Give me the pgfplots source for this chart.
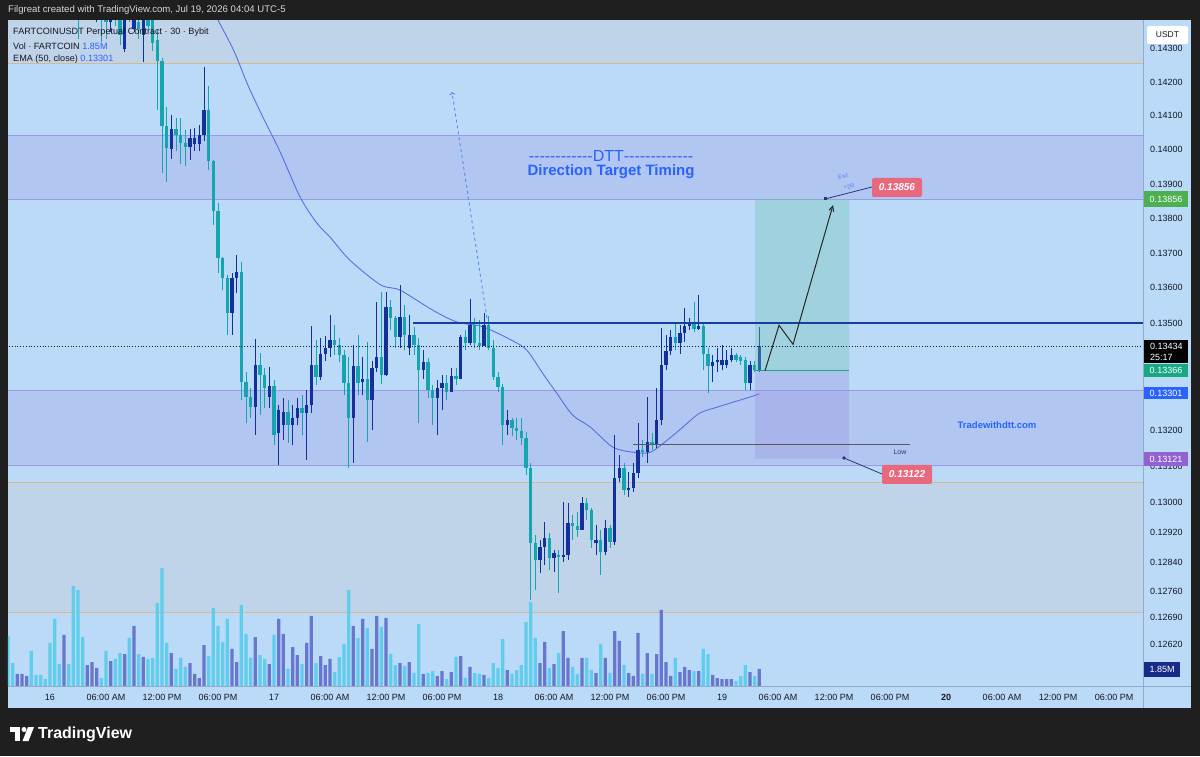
\documentclass[border=0pt]{standalone}
\usepackage{pgfplots}
\pgfplotsset{compat=1.18}
\usepackage{pgfplotstable}
\usepackage{fontspec}
\setmainfont{Liberation Sans}
\usetikzlibrary{arrows.meta}

\definecolor{framebg}{RGB}{31,31,31}
\definecolor{chartbg}{RGB}{187,218,248}
\definecolor{zonepurple}{RGB}{177,199,241}
\definecolor{zonegray}{RGB}{191,211,233}
\definecolor{linepurple}{RGB}{155,155,225}
\definecolor{lineorange}{RGB}{218,183,140}
\definecolor{cup}{RGB}{20,48,155}
\definecolor{cdown}{RGB}{20,165,175}
\definecolor{vup}{RGB}{105,118,205}
\definecolor{vdown}{RGB}{95,205,235}
\definecolor{emacol}{RGB}{85,112,228}
\definecolor{tvblue}{RGB}{41,98,255}
\definecolor{tvtext}{RGB}{19,23,34}
\definecolor{thickline}{RGB}{22,62,160}
\definecolor{sepline}{RGB}{150,170,200}
\definecolor{lblgreen}{RGB}{76,175,80}
\definecolor{lblteal}{RGB}{24,168,130}
\definecolor{lblpurple}{RGB}{148,98,208}
\definecolor{lblnavy}{RGB}{22,42,135}
\definecolor{pinklbl}{RGB}{232,105,125}
\definecolor{poslow}{RGB}{150,140,220}
\definecolor{poshigh}{RGB}{110,195,175}
\definecolor{dashblue}{RGB}{90,140,240}
\definecolor{navyline}{RGB}{40,55,120}

\newcommand\fs[1]{\fontsize{#1}{#1}\selectfont}
\newcommand\hy{\mbox{-}}

\pgfplotstableread{
h o hi lo c v u
-4.5 0.1470 0.1474 0.1465 0.1468 5.44 0
-4 0.1468 0.1472 0.1462 0.1465 2.50 0
-3.5 0.1465 0.1470 0.1460 0.1468 1.31 1
-3 0.1462 0.1470 0.1458 0.1466 1.31 1
-2.5 0.1460 0.1466 0.1455 0.1463 1.09 1
-2 0.1463 0.1466 0.1455 0.1457 3.81 0
-1.5 0.1457 0.1462 0.1452 0.1455 1.20 0
-1 0.1455 0.1461 0.1450 0.1452 1.20 0
-0.5 0.1452 0.1458 0.1449 0.1450 0.76 0
0 0.1450 0.1458 0.1447 0.1449 4.68 0
0.5 0.1449 0.1455 0.1446 0.1447 7.29 0
1 0.1447 0.1455 0.1444 0.1446 2.39 0
1.5 0.1446 0.1452 0.1443 0.1450 5.55 1
2 0.1450 0.1452 0.1442 0.1444 2.39 0
2.5 0.1448 0.1450 0.1441 0.1444 10.88 0
3 0.1448 0.1452 0.14330 0.14450 10.44 0
3.5 0.14480 0.14520 0.14400 0.14450 5.33 0
4 0.14430 0.14540 0.14420 0.14480 2.28 1
4.5 0.14400 0.14480 0.14390 0.14430 2.61 1
5 0.14400 0.14470 0.14380 0.14450 1.96 1
5.5 0.14450 0.14480 0.14320 0.14410 0.87 0
6 0.14410 0.14450 0.14330 0.14380 3.81 0
6.5 0.14380 0.14440 0.14350 0.14420 2.72 1
7 0.14420 0.14450 0.14370 0.14390 2.94 0
7.5 0.14420 0.14450 0.14310 0.14340 3.59 0
8 0.14300 0.14460 0.14290 0.14420 3.48 1
8.5 0.14420 0.14460 0.14380 0.14400 5.22 0
9 0.14360 0.14440 0.14350 0.14400 6.53 1
9.5 0.14380 0.14420 0.14330 0.14360 3.48 0
10 0.14340 0.14420 0.14259 0.14390 3.16 1
10.5 0.14390 0.14410 0.14360 0.14370 2.94 0
11 0.14390 0.14420 0.14294 0.14318 3.05 0
11.5 0.14325 0.14355 0.14118 0.14262 9.03 0
12 0.14262 0.14271 0.13931 0.14070 12.84 0
12.5 0.14070 0.14126 0.13906 0.14006 4.68 0
13 0.14003 0.14103 0.13974 0.14061 3.59 1
13.5 0.14061 0.14094 0.13997 0.14042 1.85 0
14 0.14042 0.14094 0.13960 0.14021 3.05 0
14.5 0.14021 0.14058 0.13951 0.14009 2.07 0
15 0.14009 0.14061 0.13971 0.14036 2.50 1
15.5 0.14018 0.14064 0.13997 0.14036 1.31 1
16 0.14018 0.14073 0.13997 0.14042 0.87 1
16.5 0.14042 0.14244 0.14027 0.14118 4.46 1
17 0.14118 0.14188 0.13940 0.13966 3.26 0
17.5 0.13966 0.13969 0.13780 0.13821 8.49 0
18 0.13821 0.13844 0.13643 0.13686 6.53 0
18.5 0.13686 0.13690 0.13594 0.13629 4.79 0
19 0.13629 0.13637 0.13466 0.13529 7.29 0
19.5 0.13529 0.13643 0.13466 0.13629 4.03 1
20 0.13629 0.13694 0.13586 0.13646 2.61 1
20.5 0.13646 0.13674 0.13283 0.13333 8.81 0
21 0.13333 0.13361 0.13219 0.13292 5.66 0
21.5 0.13292 0.13317 0.13233 0.13264 3.05 0
22 0.13264 0.13454 0.13186 0.13381 5.33 1
22.5 0.13381 0.13417 0.13242 0.13353 3.37 0
23 0.13353 0.13372 0.13261 0.13317 2.94 0
23.5 0.13292 0.13375 0.13261 0.13322 2.39 1
24 0.13322 0.13339 0.13158 0.13186 5.55 0
24.5 0.13192 0.13269 0.13103 0.13256 7.29 1
25 0.13214 0.13289 0.13172 0.13250 5.66 1
25.5 0.13250 0.13283 0.13164 0.13214 1.85 0
26 0.13214 0.13269 0.13158 0.13233 4.24 1
26.5 0.13233 0.13289 0.13214 0.13261 3.37 1
27 0.13261 0.13297 0.13186 0.13247 2.39 0
27.5 0.13247 0.13311 0.13117 0.13269 4.68 1
28 0.13269 0.13491 0.13247 0.13383 7.62 1
28.5 0.13383 0.13451 0.13325 0.13347 2.50 0
29 0.13347 0.13457 0.13339 0.13414 3.26 1
29.5 0.13414 0.13463 0.13394 0.13431 2.28 1
30 0.13431 0.13523 0.13403 0.13451 2.94 1
30.5 0.13451 0.13494 0.13409 0.13437 1.52 0
31 0.13437 0.13457 0.13389 0.13409 3.16 0
31.5 0.13409 0.13423 0.13297 0.13331 4.57 0
32 0.13331 0.13403 0.13097 0.13233 10.44 0
32.5 0.13233 0.13437 0.13111 0.13378 6.53 1
33 0.13378 0.13466 0.13297 0.13331 5.22 0
33.5 0.13333 0.13403 0.13297 0.13344 7.29 1
34 0.13344 0.13446 0.13167 0.13283 6.31 0
34.5 0.13283 0.13394 0.13200 0.13372 4.03 1
35 0.13372 0.13560 0.13361 0.13403 7.62 1
35.5 0.13403 0.13589 0.13328 0.13353 6.42 0
36 0.13353 0.13589 0.13350 0.13546 7.40 1
36.5 0.13546 0.13566 0.13480 0.13514 3.48 0
37 0.13514 0.13520 0.13431 0.13460 2.28 0
37.5 0.13460 0.13609 0.13431 0.13517 2.50 1
38 0.13517 0.13551 0.13423 0.13466 2.18 0
38.5 0.13431 0.13523 0.13409 0.13466 2.61 1
39 0.13466 0.13489 0.13409 0.13437 1.41 0
39.5 0.13437 0.13457 0.13219 0.13367 6.75 0
40 0.13367 0.13423 0.13344 0.13389 1.31 1
40.5 0.13389 0.13400 0.13289 0.13311 1.41 0
41 0.13311 0.13325 0.13214 0.13289 1.63 0
41.5 0.13289 0.13339 0.13186 0.13317 1.09 1
42 0.13317 0.13353 0.13256 0.13331 1.63 1
42.5 0.13331 0.13353 0.13283 0.13306 0.76 0
43 0.13306 0.13372 0.13306 0.13350 1.52 1
43.5 0.13350 0.13372 0.13325 0.13344 3.16 0
44 0.13344 0.13466 0.13344 0.13460 3.26 1
44.5 0.13460 0.13480 0.13423 0.13443 0.87 0
45 0.13443 0.13569 0.13437 0.13494 2.07 1
45.5 0.13494 0.13514 0.13429 0.13443 1.41 0
46 0.13443 0.13509 0.13423 0.13434 1.31 0
46.5 0.13434 0.13529 0.13434 0.13494 1.20 1
47 0.13494 0.13520 0.13423 0.13431 0.87 0
47.5 0.13431 0.13451 0.13339 0.13347 2.50 0
48 0.13347 0.13361 0.13306 0.13319 1.96 0
48.5 0.13319 0.13328 0.13158 0.13214 5.11 0
49 0.13214 0.13256 0.13186 0.13228 1.74 1
49.5 0.13228 0.13233 0.13183 0.13206 1.31 0
50 0.13206 0.13233 0.13172 0.13197 1.74 0
50.5 0.13197 0.13233 0.13158 0.13178 2.28 0
51 0.13178 0.13194 0.13076 0.13097 6.96 0
51.5 0.13097 0.13111 0.12738 0.12892 9.14 0
52 0.12892 0.12914 0.12765 0.12846 5.22 0
52.5 0.12846 0.12900 0.12811 0.12881 2.50 1
53 0.12881 0.12949 0.12832 0.12905 4.79 1
53.5 0.12905 0.12919 0.12819 0.12851 1.96 0
54 0.12851 0.12873 0.12813 0.12865 2.39 1
54.5 0.12859 0.12873 0.12757 0.12854 3.59 0
55 0.12854 0.13003 0.12840 0.12859 5.98 1
55.5 0.12859 0.13000 0.12846 0.12946 3.05 1
56 0.12946 0.12968 0.12900 0.12938 2.07 0
56.5 0.12938 0.12976 0.12908 0.12927 1.31 0
57 0.12927 0.13016 0.12927 0.13000 3.05 1
57.5 0.13000 0.13014 0.12954 0.12981 3.05 0
58 0.12981 0.12987 0.12878 0.12900 1.74 0
58.5 0.12892 0.12941 0.12859 0.12900 1.41 1
59 0.12900 0.12927 0.12805 0.12868 4.57 0
59.5 0.12868 0.12954 0.12859 0.12932 3.05 1
60 0.12932 0.12941 0.12878 0.12895 1.41 0
60.5 0.12895 0.13186 0.12887 0.13068 5.98 1
61 0.13068 0.13131 0.13057 0.13097 4.90 1
61.5 0.13097 0.13111 0.13022 0.13035 2.28 0
62 0.13035 0.13084 0.13016 0.13041 1.41 1
62.5 0.13041 0.13111 0.13030 0.13081 1.09 1
63 0.13081 0.13219 0.13068 0.13144 5.77 1
63.5 0.13144 0.13172 0.13125 0.13139 1.31 0
64 0.13139 0.13292 0.13111 0.13167 3.59 1
64.5 0.13167 0.13192 0.13144 0.13158 1.31 0
65 0.13158 0.13317 0.13150 0.13228 3.48 1
65.5 0.13228 0.13486 0.13214 0.13383 8.27 1
66 0.13383 0.13466 0.13367 0.13420 2.61 1
66.5 0.13420 0.13480 0.13409 0.13460 1.09 1
67 0.13460 0.13500 0.13423 0.13443 3.05 0
67.5 0.13443 0.13494 0.13414 0.13471 1.52 1
68 0.13471 0.13543 0.13446 0.13491 2.07 1
68.5 0.13491 0.13514 0.13480 0.13500 1.74 1
69 0.13500 0.13560 0.13474 0.13483 1.63 0
69.5 0.13483 0.13580 0.13480 0.13491 1.63 1
70 0.13491 0.13500 0.13367 0.13414 4.03 0
70.5 0.13414 0.13429 0.13303 0.13378 3.48 0
71 0.13378 0.13409 0.13333 0.13389 1.20 1
71.5 0.13389 0.13429 0.13361 0.13397 0.87 1
72 0.13383 0.13437 0.13367 0.13397 0.76 1
72.5 0.13383 0.13423 0.13372 0.13397 0.76 1
73 0.13397 0.13431 0.13389 0.13409 0.76 1
73.5 0.13409 0.13417 0.13389 0.13397 0.54 0
74 0.13403 0.13409 0.13381 0.13392 1.09 0
74.5 0.13397 0.13403 0.13311 0.13331 2.28 0
75 0.13331 0.13394 0.13311 0.13381 1.52 1
75.5 0.13381 0.13394 0.13361 0.13367 1.09 0
76 0.13367 0.13489 0.13361 0.13434 1.85 1
}\candles

\pgfplotstableread{
h p
17.14 0.14432
19.6 0.14300
21.2 0.14191
22.8 0.14097
24.6 0.13997
26.8 0.13862
28.6 0.13786
30.0 0.13746
32.1 0.13680
35.4 0.13609
37.5 0.13594
41.0 0.13537
43.6 0.13503
46.4 0.13489
49.5 0.13451
51.1 0.13423
52.8 0.13358
54.3 0.13303
56.0 0.13242
57.9 0.13208
60.3 0.13153
62.5 0.13139
64.3 0.13139
66.1 0.13172
67.8 0.13208
69.6 0.13247
71.5 0.13264
73.2 0.13278
75.0 0.13292
76.0 0.13301
}\ematab

\pgfplotstablegetrowsof{\candles}
\pgfmathtruncatemacro\nlast{\pgfplotsretval-1}

\begin{document}
\begin{tikzpicture}[x=1pt,y=1pt]
\useasboundingbox (0,0) rectangle (1200,756);
\fill[framebg] (0,0) rectangle (1200,756);
\begin{scope}[yshift=756pt, yscale=-1]
  \fill[chartbg] (8,20) rectangle (1191,708);
  \node[anchor=west, text={rgb,255:red,215;green,215;blue,215}, inner sep=0pt] at (8,10) {\fs{9.6}Filgreat created with TradingView.com, Jul 19, 2026 04:04 UTC-5};
\end{scope}

% background zones and lines
\begin{axis}[at={(8pt,70pt)}, anchor=south west, scale only axis,
    width=1135pt, height=666pt, xmin=-4.5, xmax=117.107,
    ymode=log, ymin=0.125099, ymax=0.143861, hide axis, clip=true]
  \addplot[fill=zonegray, draw=none] coordinates {(-5,0.14256) (118,0.14256) (118,0.1460) (-5,0.1460) (-5,0.14256)};
  \addplot[fill=zonepurple, draw=none] coordinates {(-5,0.13856) (118,0.13856) (118,0.14042) (-5,0.14042) (-5,0.13856)};
  \addplot[fill=zonepurple, draw=none] coordinates {(-5,0.13103) (118,0.13103) (118,0.13311) (-5,0.13311) (-5,0.13103)};
  \addplot[fill=zonegray, draw=none] coordinates {(-5,0.12705) (118,0.12705) (118,0.13057) (-5,0.13057) (-5,0.12705)};
  \addplot[lineorange, line width=1pt] coordinates {(-5,0.14256) (118,0.14256)};
  \addplot[lineorange, line width=1pt] coordinates {(-5,0.13057) (118,0.13057)};
  \addplot[lineorange, line width=1pt] coordinates {(-5,0.12705) (118,0.12705)};
  \addplot[linepurple, line width=1pt] coordinates {(-5,0.14042) (118,0.14042)};
  \addplot[linepurple, line width=1pt] coordinates {(-5,0.13856) (118,0.13856)};
  \addplot[linepurple, line width=1pt] coordinates {(-5,0.13311) (118,0.13311)};
  \addplot[linepurple, line width=1pt] coordinates {(-5,0.13103) (118,0.13103)};
\end{axis}

% volume
\begin{axis}[at={(8pt,70pt)}, anchor=south west, scale only axis,
    width=1135pt, height=200pt, xmin=-4.5, xmax=117.107,
    ymin=0, ymax=21.76, hide axis, clip=true]
  \addplot[ybar, bar width=3.3pt, bar shift=0pt, fill=vdown, draw=none,
    x filter/.expression={\thisrow{u}>0.5 ? nan : x}] table[x=h,y=v]{\candles};
  \addplot[ybar, bar width=3.3pt, bar shift=0pt, fill=vup, draw=none,
    x filter/.expression={\thisrow{u}>0.5 ? x : nan}] table[x=h,y=v]{\candles};
\end{axis}

% candles + EMA
\begin{axis}[at={(8pt,70pt)}, anchor=south west, scale only axis,
    width=1135pt, height=666pt, xmin=-4.5, xmax=117.107,
    ymode=log, ymin=0.125099, ymax=0.143861, hide axis, clip=true]
  \addplot[emacol, line width=0.9pt, smooth, tension=0.5] table[x=h,y=p]{\ematab};
  \pgfplotsforeachungrouped \i in {0,...,\nlast}{%
    \pgfplotstablegetelem{\i}{h}\of\candles \let\cH\pgfplotsretval
    \pgfplotstablegetelem{\i}{o}\of\candles \let\cOp\pgfplotsretval
    \pgfplotstablegetelem{\i}{hi}\of\candles \let\cHi\pgfplotsretval
    \pgfplotstablegetelem{\i}{lo}\of\candles \let\cLo\pgfplotsretval
    \pgfplotstablegetelem{\i}{c}\of\candles \let\cCl\pgfplotsretval
    \pgfplotstablegetelem{\i}{u}\of\candles \let\cU\pgfplotsretval
    \ifnum\cU=1 \def\ccol{cup}\else\def\ccol{cdown}\fi
    \edef\candlecmd{%
      \noexpand\addplot[\ccol, line width=1pt, forget plot] coordinates {(\cH,\cLo) (\cH,\cHi)};
      \noexpand\addplot[\ccol, line width=3.4pt, forget plot] coordinates {(\cH,\cOp) (\cH,\cCl)};
    }%
    \candlecmd
  }
\end{axis}

% overlays and tick labels
\begin{axis}[at={(8pt,70pt)}, anchor=south west, scale only axis,
  width=1135pt, height=666pt, xmin=-4.5, xmax=117.107,
  ymode=log, ymin=0.125099, ymax=0.143861, clip=true,
  axis x line*=bottom, axis y line*=right,
  axis line style={draw=none}, tick style={draw=none}, major tick length=0pt,
  xtick={0,6,...,114},
  xticklabels={16,06:00 AM,12:00 PM,06:00 PM,17,06:00 AM,12:00 PM,06:00 PM,18,06:00 AM,12:00 PM,06:00 PM,19,06:00 AM,12:00 PM,06:00 PM,\textbf{20},06:00 AM,12:00 PM,06:00 PM},
  xticklabel style={anchor=center, yshift=-11pt, inner sep=0pt, font=\fs{9}, text=tvtext},
  ytick={0.1262,0.1269,0.1276,0.1284,0.1292,0.13,0.131,0.132,0.135,0.136,0.137,0.138,0.139,0.14,0.141,0.142,0.143},
  yticklabels={0.12620,0.12690,0.12760,0.12840,0.12920,0.13000,0.13100,0.13200,0.13500,0.13600,0.13700,0.13800,0.13900,0.14000,0.14100,0.14200,0.14300},
  yticklabel style={anchor=west, xshift=7pt, inner sep=0pt, font=\fs{9}, text=tvtext},
  ]
  \addplot[fill=poshigh, fill opacity=0.35, draw=none] coordinates {(75.54,0.13366) (85.61,0.13366) (85.61,0.13856) (75.54,0.13856) (75.54,0.13366)};
  \addplot[fill=poslow, fill opacity=0.32, draw=none] coordinates {(75.54,0.13122) (85.61,0.13122) (85.61,0.13366) (75.54,0.13366) (75.54,0.13122)};
  \addplot[lblteal, line width=1.2pt] coordinates {(75.54,0.13366) (85.61,0.13366)};
  \addplot[thickline, line width=2.2pt] coordinates {(38.89,0.13500) (118,0.13500)};
  \addplot[tvtext, line width=0.8pt, dotted] coordinates {(-5,0.13434) (118,0.13434)};
  \addplot[black!65, line width=1.4pt] coordinates {(62.46,0.13161) (92.14,0.13161)};
  \addplot[dashblue, line width=0.9pt, dashed, -{To[length=3pt]}] coordinates {(46.82,0.13514) (43.07,0.14171)};
  \addplot[black!85, line width=1pt, -{Straight Barb[length=5pt,width=5pt]}] coordinates {(76.61,0.13366) (78.11,0.13494) (79.61,0.13440) (83.89,0.13838)};
\end{axis}

\begin{scope}[yshift=756pt, yscale=-1]
  \draw[sepline, line width=0.8pt] (1143,20) -- (1143,708);
  \draw[sepline, line width=0.8pt] (8,686) -- (1191,686);
  \node[anchor=west, inner sep=0pt, text=tvtext] at (13,32) {\fs{9.1}FARTCOINUSDT Perpetual Contract · 30 · Bybit};
  \node[anchor=west, inner sep=0pt, text=tvtext] at (13,46) {\fs{9.1}Vol · FARTCOIN \textcolor{tvblue}{1.85M}};
  \node[anchor=west, inner sep=0pt, text=tvtext] at (13,59) {\fs{9.1}EMA (50, close) \textcolor{tvblue}{0.13301}};
  \node[text=tvblue, inner sep=0pt] at (611,156) {\fs{16}\hy\hy\hy\hy\hy\hy\hy\hy\hy\hy\hy\hy DTT\hy\hy\hy\hy\hy\hy\hy\hy\hy\hy\hy\hy\hy};
  \node[text=tvblue, inner sep=0pt] at (611,172) {\fs{15}\textbf{Direction Target Timing}};
  \node[text=tvblue, inner sep=0pt] at (997,425) {\fs{9.5}\textbf{Tradewithdtt.com}};
  \node[text=navyline, inner sep=0pt] at (900,452) {\fs{7}Low};
  \draw[navyline, line width=0.8pt] (825,199) -- (872,187);
  \fill[navyline] (823.5,197.5) rectangle (826.5,200.5);
  \fill[pinklbl, rounded corners=2pt] (872,178) rectangle (922,197);
  \node[text=white, inner sep=0pt] at (897,187.5) {\fs{10}\textbf{\textit{0.13856}}};
  \node[text=tvblue!80, inner sep=0pt, rotate=15] at (843,176.5) {\fs{6}Exit};
  \node[text=tvblue!80, inner sep=0pt, rotate=15] at (849,186.5) {\fs{6}+2R};
  \draw[navyline, line width=0.8pt] (844,458) -- (882,474);
  \fill[navyline] (844,458) circle (1.8);
  \fill[pinklbl, rounded corners=2pt] (882,465) rectangle (932,484);
  \node[text=white, inner sep=0pt] at (907,474.5) {\fs{10}\textbf{\textit{0.13122}}};
  \fill[white, rounded corners=2pt] (1147,26) rectangle (1188,44);
  \node[text=tvtext, inner sep=0pt] at (1167.5,35) {\fs{8.5}USDT};
  \fill[lblgreen] (1144,191) rectangle (1188,207);
  \node[text=white, inner sep=0pt] at (1166,199) {\fs{9}0.13856};
  \fill[black] (1144,340) rectangle (1188,363);
  \node[anchor=west, text=white, inner sep=0pt] at (1150,346.5) {\fs{9}0.13434};
  \node[anchor=west, text=white, inner sep=0pt] at (1150,357) {\fs{9}25:17};
  \fill[lblteal] (1144,364) rectangle (1188,377);
  \node[text=white, inner sep=0pt] at (1166,370.7) {\fs{9}0.13366};
  \fill[tvblue] (1144,387) rectangle (1188,399);
  \node[text=white, inner sep=0pt] at (1166,393) {\fs{9}0.13301};
  \fill[lblpurple] (1144,452) rectangle (1188,466);
  \node[text=white, inner sep=0pt] at (1166,459) {\fs{9}0.13121};
  \fill[lblnavy] (1144,662) rectangle (1180,677);
  \node[text=white, inner sep=0pt] at (1162,669.5) {\fs{9}1.85M};
  \fill[white] (10,727) rectangle (20,732);
  \fill[white] (15,727) rectangle (20,741);
  \fill[white] (24,729.5) circle (2.5);
  \fill[white] (28,727) -- (34,727) -- (28.5,741) -- (22.5,741) -- cycle;
  \node[anchor=west, text=white, inner sep=0pt] at (38,734) {\fs{16}\textbf{TradingView}};
\end{scope}
\end{tikzpicture}
\end{document}
